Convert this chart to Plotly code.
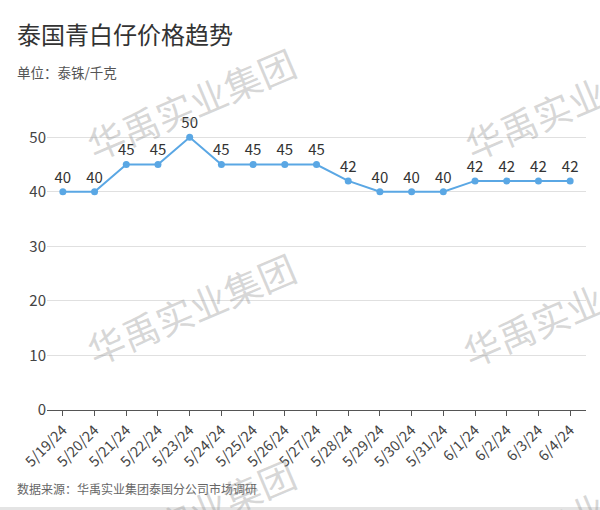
import plotly.graph_objects as go

dates = ["5/19/24", "5/20/24", "5/21/24", "5/22/24", "5/23/24", "5/24/24", "5/25/24", "5/26/24",
         "5/27/24", "5/28/24", "5/29/24", "5/30/24", "5/31/24", "6/1/24", "6/2/24", "6/3/24", "6/4/24"]
prices = [40, 40, 45, 45, 50, 45, 45, 45, 45, 42, 40, 40, 40, 42, 42, 42, 42]
y_ticks = [0, 10, 20, 30, 40, 50]

title = "泰国青白仔价格趋势"
subtitle = "单位：泰铢/千克"
source = "数据来源：华禹实业集团泰国分公司市场调研"
watermark = "华禹实业集团"

FONT = "Noto Sans CJK SC, Noto Sans, sans-serif"
W, H = 600, 510
L, R, T, B = 47, 14, 110, 100
pw, ph = W - L - R, H - T - B

def px(x):
    return (x - L) / pw

def py(y):
    return (H - B - y) / ph

fig = go.Figure()
fig.add_trace(go.Scatter(
    x=list(range(len(dates))), y=prices,
    mode="lines+markers+text",
    line=dict(color="#5aa7e4", width=2),
    marker=dict(color="#5aa7e4", size=7),
    text=[str(v) for v in prices],
    textposition="top center",
    textfont=dict(family=FONT, size=15, color="#333333"),
    cliponaxis=False,
    hoverinfo="skip",
))

annotations = [
    dict(text=title, x=px(15), y=py(33), xref="paper", yref="paper", xanchor="left", yanchor="middle",
         showarrow=False, font=dict(family=FONT, size=24, color="#333333")),
    dict(text=subtitle, x=px(15), y=py(72), xref="paper", yref="paper", xanchor="left", yanchor="middle",
         showarrow=False, font=dict(family=FONT, size=13.5, color="#555555")),
    dict(text=source, x=px(15), y=py(488), xref="paper", yref="paper", xanchor="left", yanchor="middle",
         showarrow=False, font=dict(family=FONT, size=12, color="#666666")),
]
wm_centers = [(191, 103), (569, 103), (191, 308), (567, 310), (191, 514), (569, 518)]
for cx, cy in wm_centers:
    annotations.append(dict(text=watermark, x=px(cx), y=py(cy), xref="paper", yref="paper",
                            xanchor="center", yanchor="middle", showarrow=False, textangle=-23,
                            font=dict(family=FONT, size=37, color="rgba(150,150,150,0.38)")))

shapes = [dict(type="rect", xref="paper", yref="paper", x0=px(0), x1=px(W), y0=py(507), y1=py(H),
               fillcolor="#e4e4e4", line=dict(width=0), layer="above")]

fig.update_layout(
    width=W, height=H,
    margin=dict(l=L, r=R, t=T, b=B),
    paper_bgcolor="white", plot_bgcolor="white",
    showlegend=False,
    annotations=annotations,
    shapes=shapes,
    xaxis=dict(
        range=[-0.5, len(dates) - 0.5],
        tickmode="array", tickvals=list(range(len(dates))), ticktext=dates,
        tickangle=-45, ticks="outside", ticklen=5, tickcolor="#555555",
        tickfont=dict(family=FONT, size=14.5, color="#444444"),
        showgrid=False, showline=True, linecolor="#555555", linewidth=1,
        zeroline=False, fixedrange=True,
    ),
    yaxis=dict(
        range=[0, 55], tickmode="array", tickvals=y_ticks,
        tickfont=dict(family=FONT, size=15, color="#444444"),
        showgrid=True, gridcolor="#e0e0e0", gridwidth=1,
        zeroline=False, showline=False, ticks="", fixedrange=True,
    ),
)
fig.write_html("out.html")
